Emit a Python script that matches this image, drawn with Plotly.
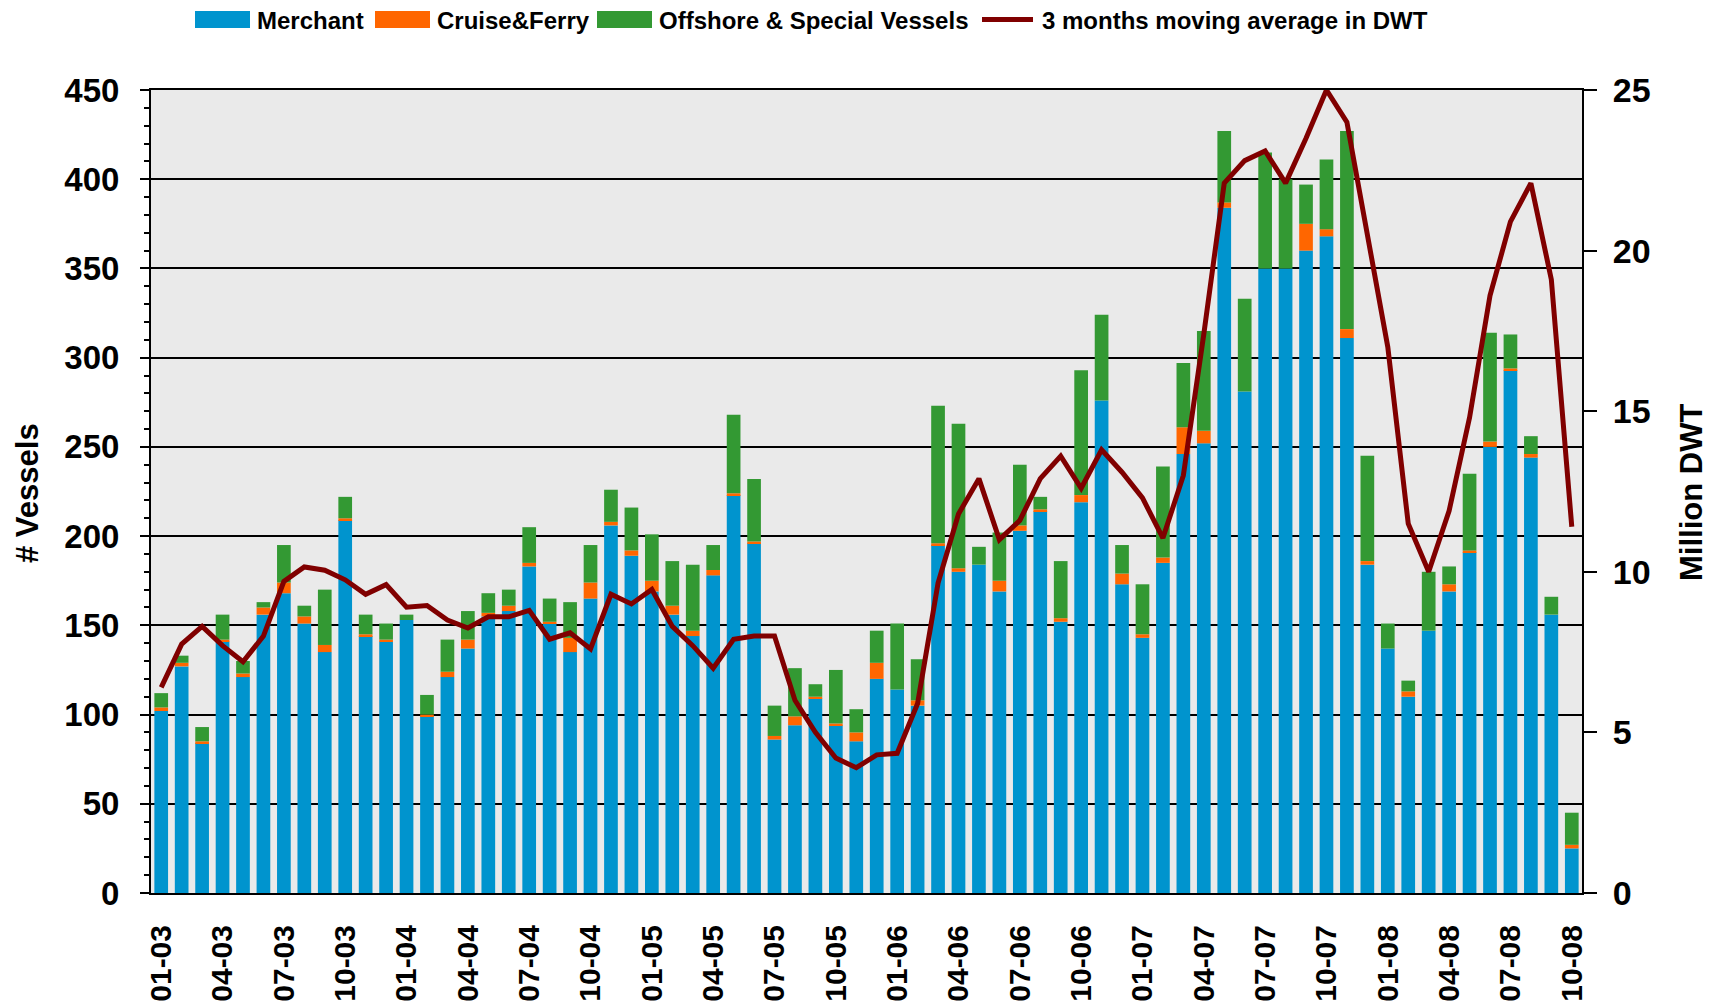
import plotly.graph_objects as go

years = ["03", "04", "05", "06", "07", "08"]
months = [f"{m:02d}-{y}" for y in years for m in range(1, 13)][:70]

merchant = [102, 127, 84, 141, 121, 156, 168, 151, 135, 209, 144, 141,
            153, 99, 121, 137, 155, 158, 183, 151, 135, 165, 206, 189,
            169, 156, 144, 178, 223, 196, 86, 94, 109, 94, 85, 120,
            114, 105, 195, 180, 184, 169, 203, 214, 152, 219, 276, 173,
            143, 185, 246, 252, 384, 281, 350, 350, 360, 368, 311, 184,
            137, 110, 147, 169, 191, 250, 293, 244, 156, 25]
cruise = [2, 2, 1, 1, 2, 4, 6, 4, 4, 1, 1, 1,
          0, 1, 3, 5, 2, 3, 2, 1, 8, 9, 2, 3,
          6, 5, 3, 3, 1, 1, 2, 5, 1, 1, 5, 9,
          0, 3, 1, 2, 0, 6, 3, 1, 2, 4, 0, 6,
          2, 3, 15, 7, 3, -1, 0, 0, 15, 4, 5, 2,
          0, 3, 0, 4, 1, 3, 1, 2, 0, 2]
offshore = [8, 4, 8, 14, 7, 3, 21, 6, 31, 12, 11, 9,
            3, 11, 18, 16, 11, 9, 20, 13, 20, 21, 18, 24,
            26, 25, 37, 14, 44, 35, 17, 27, 7, 30, 13, 18,
            37, 23, 77, 81, 10, 27, 34, 7, 32, 70, 48, 16,
            28, 51, 36, 56, 40, 52, 65, 50, 22, 39, 111, 59,
            14, 6, 33, 10, 43, 61, 19, 10, 10, 18]
dwt_ma = [6.4, 7.75, 8.3, 7.7, 7.2, 8.0, 9.7, 10.15, 10.05, 9.75, 9.3, 9.6,
          8.9, 8.95, 8.5, 8.25, 8.6, 8.6, 8.8, 7.9, 8.1, 7.6, 9.3, 9.0,
          9.45, 8.3, 7.7, 7.0, 7.9, 8.0, 8.0, 6.0, 5.0, 4.2, 3.9, 4.3,
          4.35, 5.9, 9.65, 11.8, 12.9, 11.0, 11.6, 12.9, 13.6, 12.6, 13.8, 13.1,
          12.3, 11.05, 13.0, 17.4, 22.1, 22.8, 23.1, 22.1, 23.5, 25.0, 24.0, 20.6,
          17.0, 11.5, 10.0, 11.9, 14.8, 18.6, 20.9, 22.1, 19.1, 11.4]
tick_labels = months[::3]

series_names = ["Merchant", "Cruise&Ferry", "Offshore & Special Vessels",
                "3 months moving average in DWT"]
series_colors = ["#0094CE", "#FF6600", "#339933", "#800000"]

W, H = 1718, 1006
ML, MR, MT, MB = 151, 136, 90, 113
PW, PH = W - ML - MR, H - MT - MB


def px_x(x):
    return (x - ML) / PW


def px_y(y):
    return (H - MB - y) / PH


fig = go.Figure()
for vals, name, col in zip([merchant, cruise, offshore], series_names[:3], series_colors[:3]):
    fig.add_trace(go.Bar(x=months, y=vals, name=name, marker_color=col,
                         marker_line_width=0))
fig.add_trace(go.Scatter(x=months, y=dwt_ma, name=series_names[3],
                         mode="lines", line=dict(color=series_colors[3], width=5),
                         yaxis="y2"))

bold = dict(family="Liberation Sans", weight="bold", color="black")

# manual legend (pixel positions of the keys)
key_x = [195, 375, 597, 980]
shapes = []
annotations = []
for i, (name, col, kx) in enumerate(zip(series_names, series_colors, key_x)):
    if i < 3:
        shapes.append(dict(type="rect", xref="paper", yref="paper",
                           x0=px_x(kx), x1=px_x(kx + 55), y0=px_y(28), y1=px_y(11),
                           fillcolor=col, line=dict(width=0)))
    else:
        shapes.append(dict(type="line", xref="paper", yref="paper",
                           x0=px_x(kx + 2), x1=px_x(kx + 53), y0=px_y(19.5), y1=px_y(19.5),
                           line=dict(color=col, width=5)))
    annotations.append(dict(text=name, xref="paper", yref="paper",
                            x=px_x(kx + 60), y=px_y(20), xanchor="left", yanchor="middle",
                            showarrow=False, font=dict(size=24, **bold)))

annotations += [
    dict(text="# Vessels", xref="paper", yref="paper", x=px_x(27), y=px_y(493),
         xanchor="center", yanchor="middle",
         textangle=-90, showarrow=False, font=dict(size=31, **bold)),
    dict(text="Million DWT", xref="paper", yref="paper", x=px_x(1691), y=px_y(493),
         xanchor="center", yanchor="middle",
         textangle=-90, showarrow=False, font=dict(size=31, **bold)),
]

fig.update_layout(
    width=W, height=H,
    margin=dict(l=ML, r=MR, t=MT, b=MB, autoexpand=False),
    barmode="relative", bargap=0.33,
    paper_bgcolor="white", plot_bgcolor="#EAEAEA",
    showlegend=False,
    xaxis=dict(type="category", tickmode="array", tickvals=tick_labels,
               ticktext=tick_labels, tickangle=-90, automargin=False,
               tickfont=dict(size=30, **bold),
               ticks="outside", ticklen=18, tickcolor="rgba(0,0,0,0)",
               showline=True, linecolor="black", linewidth=2, mirror=True,
               showgrid=False, range=[-0.5, 69.5]),
    yaxis=dict(range=[0, 450], dtick=50, tickfont=dict(size=33, **bold),
               automargin=False,
               ticks="outside", ticklen=9, tickwidth=2, tickcolor="black",
               ticklabelstandoff=14,
               showline=True, linecolor="black", linewidth=2,
               showgrid=True, gridcolor="black", gridwidth=1.5,
               minor=dict(dtick=10, ticks="outside", ticklen=5, tickwidth=2,
                          tickcolor="black", showgrid=False),
               zeroline=False),
    yaxis2=dict(range=[0, 25], dtick=5, overlaying="y", side="right",
                automargin=False,
                tickfont=dict(size=34, **bold),
                ticks="outside", ticklen=13, tickwidth=1.5, tickcolor="black",
                ticklabelstandoff=9,
                showline=True, linecolor="black", linewidth=2,
                showgrid=False, zeroline=False),
    shapes=shapes,
    annotations=annotations,
)

fig.write_html("out.html", config={"displayModeBar": False},
               post_script="document.body.style.margin='0';document.body.style.overflow='hidden';")
